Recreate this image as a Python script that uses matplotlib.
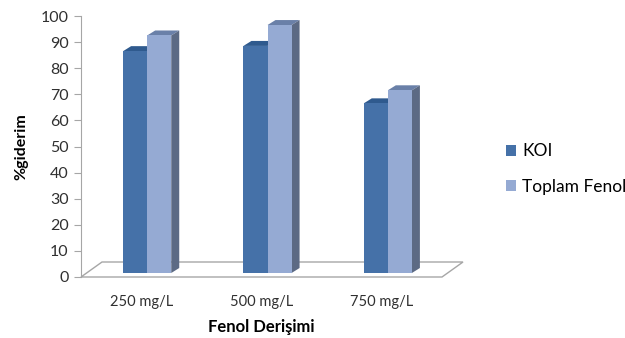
import matplotlib
matplotlib.use("Agg")
import matplotlib.pyplot as plt
import matplotlib.transforms as mtransforms
from matplotlib.patches import Polygon, Patch
import numpy as np

plt.rcParams['font.family'] = ['Lato', 'DejaVu Sans']

categories = ['250 mg/L', '500 mg/L', '750 mg/L']
koi = [85, 87, 65]
toplam_fenol = [91, 95, 70]
series_names = ['KOI', 'Toplam Fenol']

front_colors = ['#4571a8', '#95aad3']
top_colors = ['#2f5a8e', '#6a80a8']
side_colors = ['#2b4d7a', '#5c6a84']

fig = plt.figure(figsize=(6.25, 3.38), dpi=100)
ax = fig.add_axes([81 / 625, 61 / 338, 361 / 625, 261 / 338])
ax.set_xlim(-0.5, 2.5)
ax.set_ylim(0, 100)

# pixel offsets for the fake 3D look
bar_dx, bar_dy = 6, 4      # bars sit a bit behind the front edge
depth_dx, depth_dy = 8, 5  # bar depth
floor_dx, floor_dy = 21, 15

ident = mtransforms.IdentityTransform()
bar_tr = mtransforms.offset_copy(ax.transData, fig=fig, x=bar_dx, y=bar_dy, units='dots')
back_tr = mtransforms.offset_copy(ax.transData, fig=fig, x=bar_dx + depth_dx,
                                  y=bar_dy + depth_dy, units='dots')

# floor
floor_back = mtransforms.offset_copy(ax.transData, fig=fig, x=floor_dx, y=floor_dy, units='dots')
x0, x1 = ax.get_xlim()
fl = [ax.transData.transform((x0, 0)), ax.transData.transform((x1, 0)),
      floor_back.transform((x1, 0)), floor_back.transform((x0, 0))]
ax.add_patch(Polygon(fl, closed=True, transform=ident, facecolor='white',
                     edgecolor='#a6a6a6', linewidth=1.0, zorder=1, clip_on=False))

x = np.arange(len(categories))
w = 0.2
for k, vals in enumerate([koi, toplam_fenol]):
    xs = x - w / 2 + k * w
    for xi, v in zip(xs, vals):
        l, r = xi - w / 2, xi + w / 2
        fp = [bar_tr.transform(p) for p in [(l, 0), (r, 0), (r, v), (l, v)]]
        bp = [back_tr.transform(p) for p in [(l, 0), (r, 0), (r, v), (l, v)]]
        ax.add_patch(Polygon([fp[3], fp[2], bp[2], bp[3]], closed=True, transform=ident,
                             facecolor=top_colors[k], edgecolor='none', zorder=3,
                             clip_on=False))
        ax.add_patch(Polygon([fp[1], bp[1], bp[2], fp[2]], closed=True, transform=ident,
                             facecolor=side_colors[k], edgecolor='none', zorder=3,
                             clip_on=False))
    ax.bar(xs, vals, width=w, color=front_colors[k], transform=bar_tr,
           zorder=4, linewidth=0, clip_on=False)

for s in ['top', 'right', 'bottom']:
    ax.spines[s].set_visible(False)
ax.spines['left'].set_color('#a6a6a6')
ax.set_yticks(range(0, 101, 10))
ax.tick_params(axis='y', colors='#a6a6a6', labelcolor='#303030', labelsize=11.5,
               length=5, direction='out', pad=4)
ax.set_xticks(x)
ax.set_xticklabels(categories)
ax.tick_params(axis='x', length=0, labelsize=10.5, labelcolor='#303030', pad=13)
ax.patch.set_visible(False)

ax.set_xlabel('Fenol Derişimi', fontsize=12, fontweight='bold', labelpad=7)
ax.set_ylabel('%giderim', fontsize=11.5, fontweight='bold', labelpad=9)

handles = [Patch(facecolor=c, edgecolor='none') for c in front_colors]
fig.legend(handles, series_names, loc='center left', bbox_to_anchor=(490 / 625, 1 - 169 / 338),
           frameon=False, fontsize=12.5, handlelength=0.6, handleheight=0.6,
           handletextpad=0.35, labelspacing=1.1)

fig.savefig('out.png', dpi=100)
